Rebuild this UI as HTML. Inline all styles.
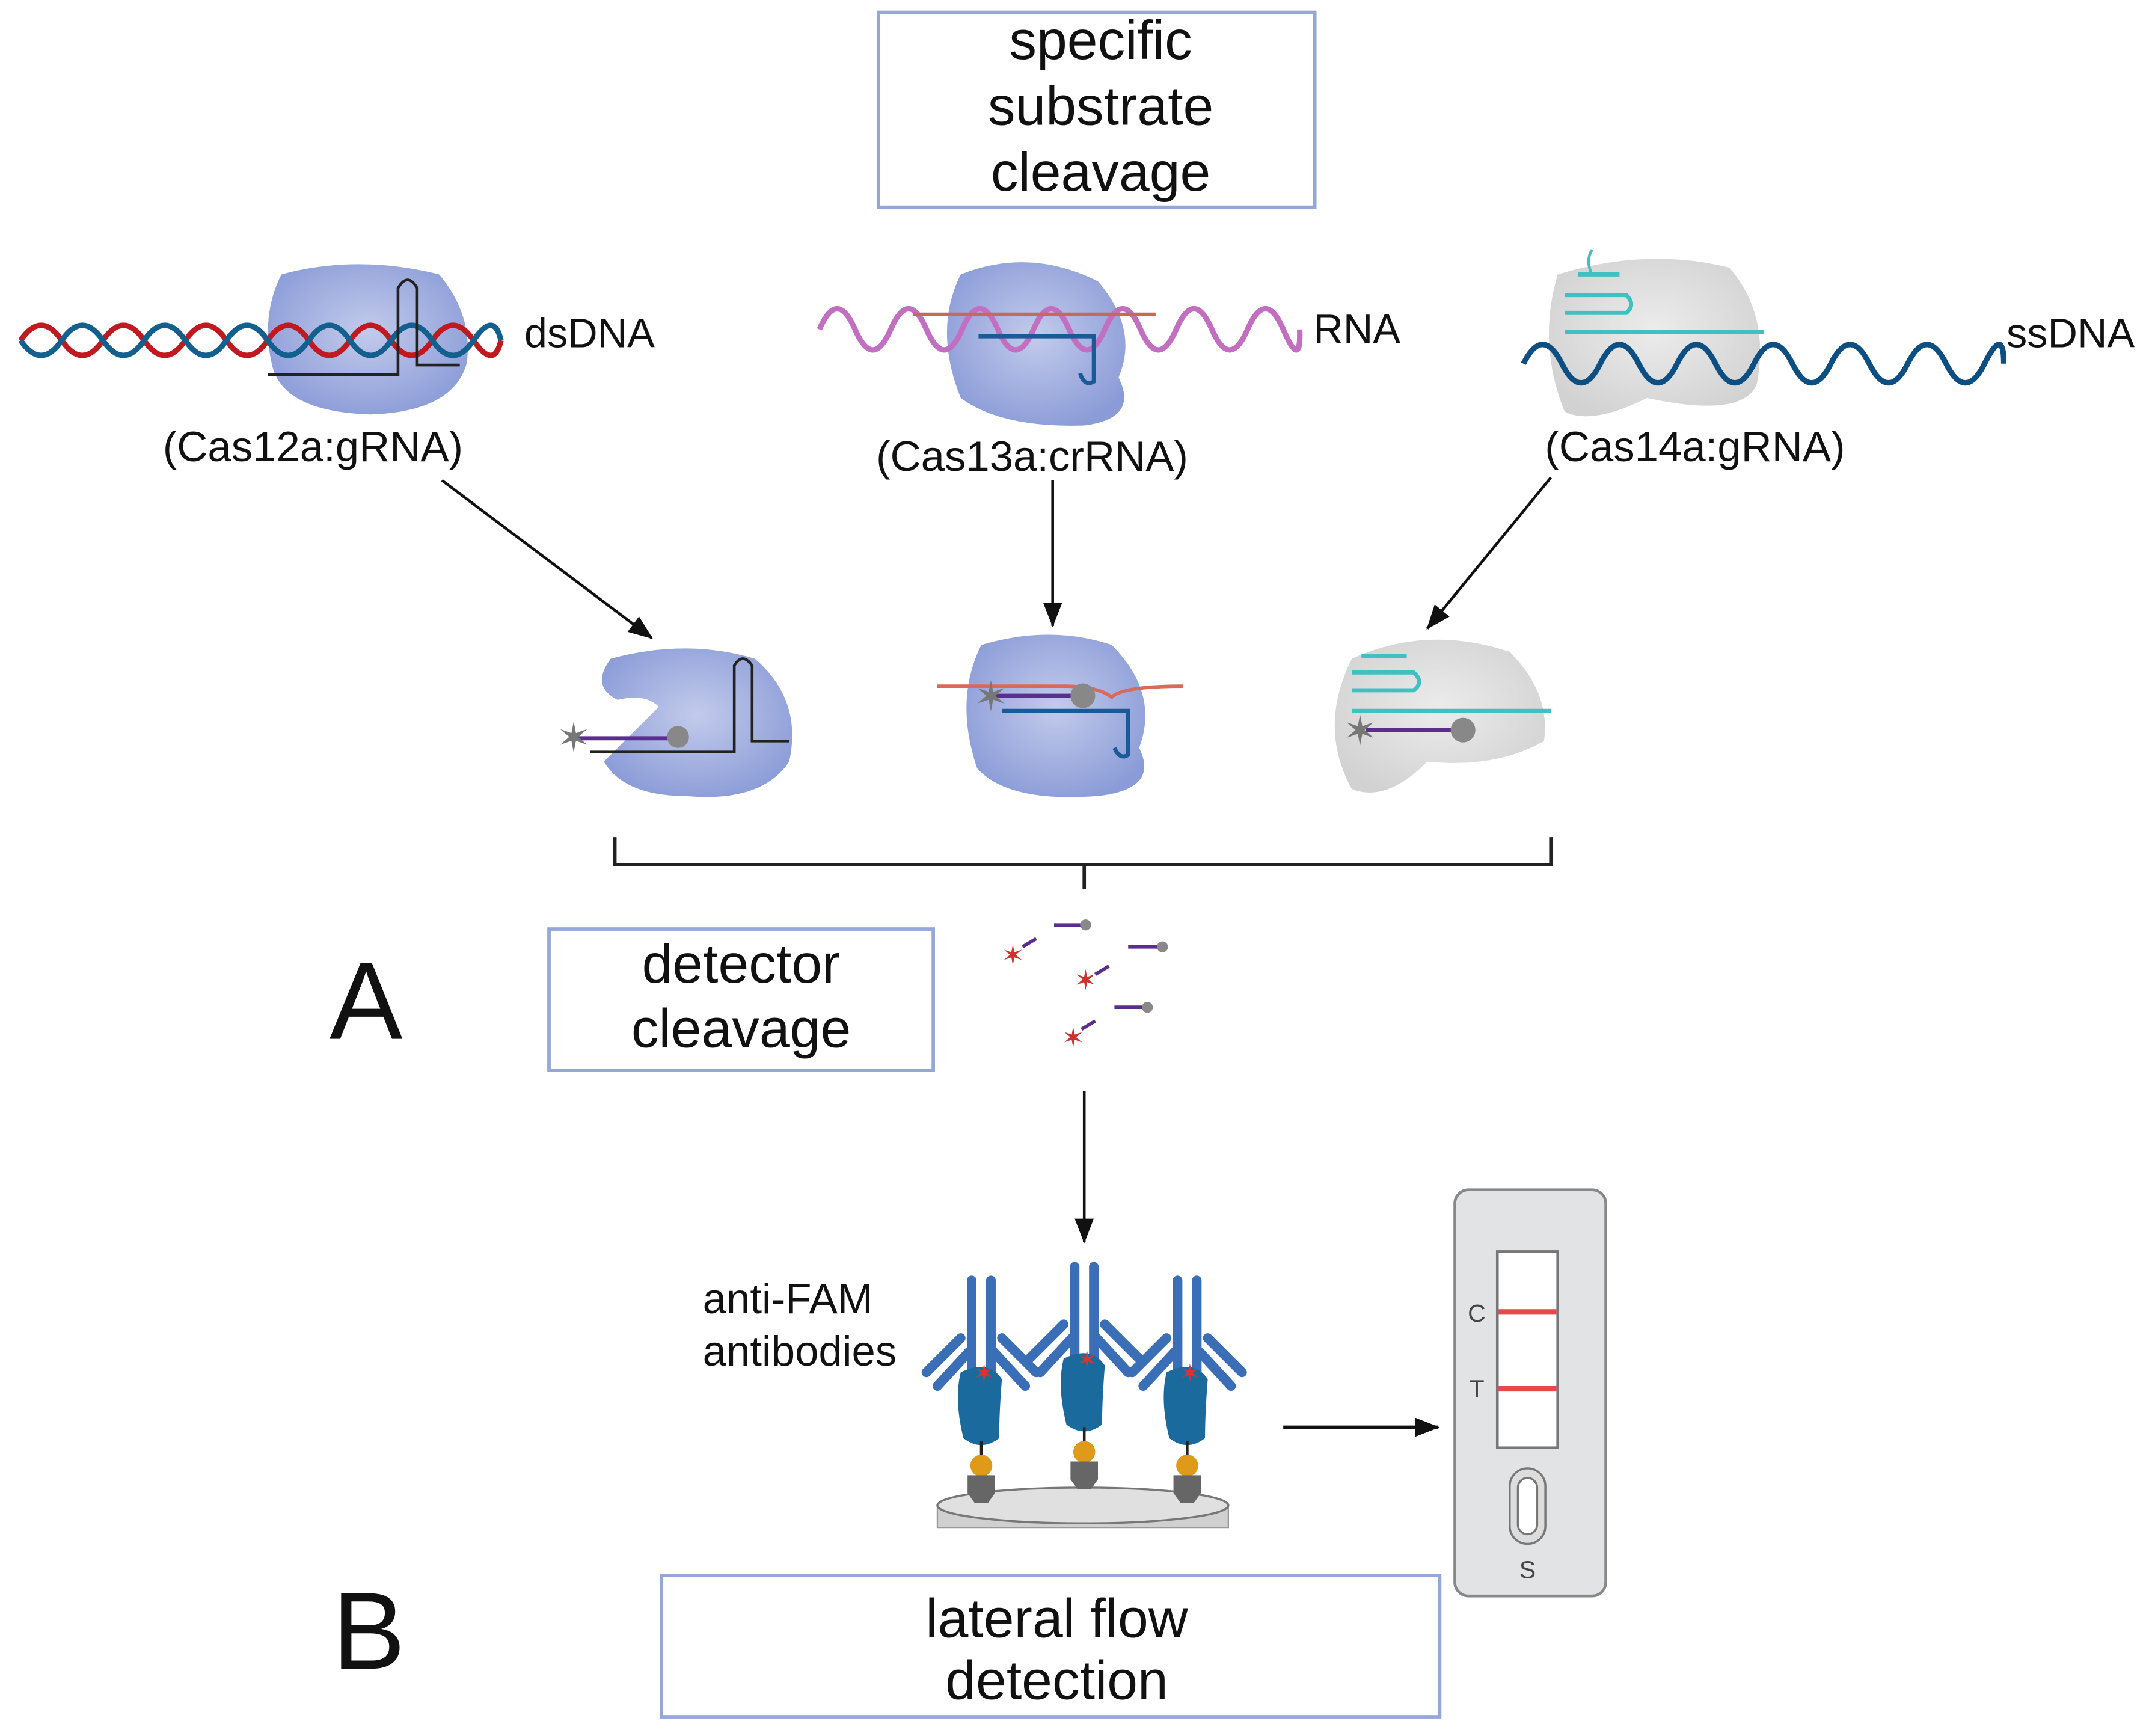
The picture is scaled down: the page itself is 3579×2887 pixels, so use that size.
<!DOCTYPE html>
<html><head><meta charset="utf-8"><style>html,body{margin:0;padding:0;background:#fff}svg{display:block}text{font-family:"Liberation Sans",sans-serif;fill:#111}</style></head><body>
<svg width="3579" height="2887" viewBox="0 0 1568 1265" preserveAspectRatio="none" xmlns="http://www.w3.org/2000/svg">
<defs>
<marker id="ah2" markerWidth="18" markerHeight="14" refX="17" refY="7" orient="auto" markerUnits="userSpaceOnUse"><path d="M0,0 L18,7 L0,14 z" fill="#111"/></marker>
<radialGradient id="gb" cx="0.5" cy="0.45" r="0.6"><stop offset="0" stop-color="#c3cbec"/><stop offset="1" stop-color="#8a9bd7"/></radialGradient>
<radialGradient id="gg" cx="0.5" cy="0.45" r="0.6"><stop offset="0" stop-color="#ececec"/><stop offset="1" stop-color="#d2d2d2"/></radialGradient>
</defs>
<rect width="1568" height="1265" fill="#fff"/>
<rect x="640" y="9" width="318" height="142" fill="none" stroke="#95a6d8" stroke-width="2.5"/>
<text x="802" y="43" font-size="40" text-anchor="middle">specific</text>
<text x="802" y="91" font-size="40" text-anchor="middle">substrate</text>
<text x="802" y="139" font-size="40" text-anchor="middle">cleavage</text>

<path d="M205,200 Q260,185 320,200 Q345,230 340,265 Q330,300 270,302 Q205,300 198,265 Q190,230 205,200z" fill="url(#gb)"/>
<path d="M15,248 q15,-22 30,0 t30,0 t30,0 t30,0 t30,0 t30,0 t30,0 t30,0 t30,0 t30,0 t30,0 t20,0" fill="none" stroke="#c01a20" stroke-width="4"/>
<path d="M15,248 q15,22 30,0 t30,0 t30,0 t30,0 t30,0 t30,0 t30,0 t30,0 t30,0 t30,0 t30,0 t20,0" fill="none" stroke="#13608f" stroke-width="4"/>
<path d="M195,273 H290 V210 Q297,198 304,210 V266 H335" fill="none" stroke="#222" stroke-width="2"/>
<text x="382" y="253" font-size="30">dsDNA</text>
<text x="228" y="336" font-size="31" text-anchor="middle">(Cas12a:gRNA)</text>

<path d="M700,200 Q750,180 800,205 Q830,240 815,275 Q830,305 790,310 Q730,312 700,290 Q680,240 700,200z" fill="url(#gb)"/>
<path d="M597,240 q13,-30 26,0 t26,0 t26,0 t26,0 t26,0 t26,0 t26,0 t26,0 t26,0 t26,0 t26,0 t26,0 t26,0 t12,0" fill="none" stroke="#c26fc2" stroke-width="4"/>
<path d="M665,229 H842" stroke="#c86a50" stroke-width="2.5"/>
<path d="M713,245 H797 V278 Q790,282 787,272" fill="none" stroke="#1a5a98" stroke-width="3"/>
<text x="957" y="250" font-size="30">RNA</text>
<text x="752" y="343" font-size="31" text-anchor="middle">(Cas13a:crRNA)</text>

<path d="M1135,200 Q1200,180 1260,195 Q1290,230 1280,280 Q1270,305 1200,290 Q1160,310 1140,300 Q1120,250 1135,200z" fill="url(#gg)"/>
<path d="M1140,242 H1285 M1140,215 H1185 Q1192,222 1185,228 H1140 M1150,200 H1180" fill="none" stroke="#40c0c0" stroke-width="3"/>
<path d="M1160,200 q-5,-10 0,-18" fill="none" stroke="#40c0c0" stroke-width="2"/>
<path d="M1110,265 q14,-28 28,0 t28,0 t28,0 t28,0 t28,0 t28,0 t28,0 t28,0 t28,0 t28,0 t28,0 t28,0 t14,0" fill="none" stroke="#0d4f82" stroke-width="4"/>
<text x="1462" y="253" font-size="30">ssDNA</text>
<text x="1235" y="336" font-size="31" text-anchor="middle">(Cas14a:gRNA)</text>

<line x1="322" y1="350" x2="475" y2="465" stroke="#111" stroke-width="2" marker-end="url(#ah2)"/>
<line x1="767" y1="350" x2="767" y2="456" stroke="#111" stroke-width="2" marker-end="url(#ah2)"/>
<line x1="1130" y1="348" x2="1040" y2="458" stroke="#111" stroke-width="2" marker-end="url(#ah2)"/>

<path d="M445,480 Q500,465 550,480 Q585,510 575,555 Q555,585 500,580 Q455,580 440,555 Q470,525 480,515 Q470,505 450,510 Q430,500 445,480z" fill="url(#gb)"/>
<path d="M430,548 H535 V485 Q541,475 548,485 V540 H575" fill="none" stroke="#222" stroke-width="2"/>
<line x1="420" y1="538" x2="492" y2="538" stroke="#5a2d8e" stroke-width="3"/>
<circle cx="494" cy="537" r="8" fill="#888"/>
<text x="418" y="548" font-size="30" text-anchor="middle" style="fill:#777">✶</text>

<path d="M715,470 Q765,455 810,470 Q845,505 830,545 Q845,575 800,580 Q735,585 712,560 Q695,510 715,470z" fill="url(#gb)"/>
<path d="M683,500 H775 Q800,500 810,508 Q818,500 862,500" fill="none" stroke="#d86a5a" stroke-width="2.5"/>
<line x1="720" y1="507" x2="787" y2="507" stroke="#5a2d8e" stroke-width="3"/>
<circle cx="789" cy="507" r="9" fill="#888"/>
<path d="M730,518 H822 V550 Q816,554 812,545" fill="none" stroke="#1a5a98" stroke-width="3"/>
<text x="722" y="518" font-size="30" text-anchor="middle" style="fill:#777">✶</text>

<path d="M985,480 Q1040,455 1100,475 Q1130,505 1125,540 Q1090,560 1040,555 Q1010,585 985,575 Q960,530 985,480z" fill="url(#gg)"/>
<path d="M985,518 H1130 M985,490 H1030 Q1038,497 1030,503 H985 M992,478 H1025" fill="none" stroke="#40c0c0" stroke-width="3"/>
<line x1="995" y1="532" x2="1063" y2="532" stroke="#5a2d8e" stroke-width="3"/>
<circle cx="1066" cy="532" r="9" fill="#888"/>
<text x="991" y="543" font-size="30" text-anchor="middle" style="fill:#777">✶</text>

<path d="M448,610 V630 H1130 V610 M790,630 V648" fill="none" stroke="#222" stroke-width="2.5"/>

<text x="240" y="757" font-size="80">A</text>
<text x="242" y="1216" font-size="80">B</text>

<rect x="400" y="677" width="280" height="103" fill="none" stroke="#95a6d8" stroke-width="2.5"/>
<text x="540" y="716" font-size="40" text-anchor="middle">detector</text>
<text x="540" y="763" font-size="40" text-anchor="middle">cleavage</text>

<g stroke="#5a2d8e" stroke-width="2.5">
<line x1="768" y1="674" x2="788" y2="674"/><line x1="745" y1="690" x2="755" y2="684"/>
<line x1="822" y1="690" x2="843" y2="690"/><line x1="798" y1="710" x2="808" y2="704"/>
<line x1="812" y1="734" x2="833" y2="734"/><line x1="788" y1="750" x2="798" y2="744"/>
</g>
<g fill="#888"><circle cx="791" cy="674" r="4"/><circle cx="847" cy="690" r="4"/><circle cx="836" cy="734" r="4"/></g>
<g font-size="20"><text x="738" y="703" text-anchor="middle" style="fill:#d03030">✶</text><text x="791" y="721" text-anchor="middle" style="fill:#d03030">✶</text><text x="782" y="763" text-anchor="middle" style="fill:#d03030">✶</text></g>

<line x1="790" y1="795" x2="790" y2="905" stroke="#111" stroke-width="2" marker-end="url(#ah2)"/>

<text x="512" y="957" font-size="31">anti-FAM</text>
<text x="512" y="995" font-size="31">antibodies</text>

<path d="M683,1097 V1113 H895 V1097" fill="#d0d0d0" stroke="#999"/>
<ellipse cx="789" cy="1097" rx="106" ry="13" fill="#e0e0e0" stroke="#777" stroke-width="1.5"/>
<g id="ab">
<g stroke="#3a6fb8" stroke-width="7" fill="none" stroke-linecap="round">
<path d="M708,933 V1000 M722,933 V1000"/>
<path d="M675,1000 L700,975 M683,1010 L706,985"/>
<path d="M755,1000 L730,975 M747,1010 L724,985"/>
</g>
<path d="M700,1000 Q720,990 730,1005 Q728,1030 728,1048 Q715,1058 702,1048 Q695,1020 700,1000z" fill="#1b6a9e"/>
<line x1="715" y1="1050" x2="715" y2="1063" stroke="#222" stroke-width="2"/>
<ellipse cx="715" cy="1068" rx="8" ry="8" fill="#e09a1a"/>
<path d="M705,1075 H725 V1088 L720,1095 H710 L705,1088z" fill="#666"/>
<text x="717" y="1007" font-size="18" text-anchor="middle" style="fill:#e03030">✶</text>
</g>
<use href="#ab" transform="translate(75,-10)"/>
<use href="#ab" transform="translate(150,0)"/>

<line x1="935" y1="1040" x2="1048" y2="1040" stroke="#111" stroke-width="2.5" marker-end="url(#ah2)"/>

<rect x="1060" y="867" width="110" height="296" rx="10" fill="#e2e3e5" stroke="#888" stroke-width="2"/>
<rect x="1091" y="912" width="44" height="143" fill="#fff" stroke="#777" stroke-width="2"/>
<line x1="1092" y1="956" x2="1134" y2="956" stroke="#e8474c" stroke-width="4"/>
<line x1="1092" y1="1012" x2="1134" y2="1012" stroke="#e8474c" stroke-width="4"/>
<text x="1076" y="963" font-size="18" text-anchor="middle" style="fill:#444">C</text>
<text x="1076" y="1018" font-size="18" text-anchor="middle" style="fill:#444">T</text>
<rect x="1100" y="1070" width="26" height="55" rx="13" fill="#ddd" stroke="#777" stroke-width="1.5"/>
<rect x="1106" y="1077" width="14" height="41" rx="7" fill="#fff" stroke="#777" stroke-width="1.5"/>
<text x="1113" y="1150" font-size="18" text-anchor="middle" style="fill:#444">S</text>

<rect x="482" y="1148" width="567" height="103" fill="none" stroke="#95a6d8" stroke-width="2.5"/>
<text x="770" y="1193" font-size="40" text-anchor="middle">lateral flow</text>
<text x="770" y="1238" font-size="40" text-anchor="middle">detection</text>
</svg>
</body></html>
